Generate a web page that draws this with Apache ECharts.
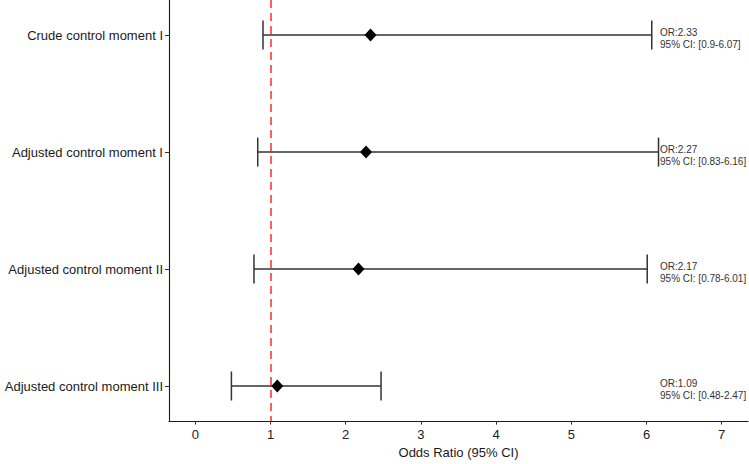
<!DOCTYPE html>
<html><head><meta charset="utf-8">
<script src="https://cdn.jsdelivr.net/npm/echarts@6/dist/echarts.min.js"></script>
<style>html,body{margin:0;padding:0;background:#fff}#c{width:749px;height:464px}</style>
</head><body><div id="c"></div>
<script>
// ---- data ----
const categories = ["Crude control moment I", "Adjusted control moment I", "Adjusted control moment II", "Adjusted control moment III"];
const oddsRatios = [2.33, 2.27, 2.17, 1.09];
const ciLower = [0.9, 0.83, 0.78, 0.48];
const ciUpper = [6.07, 6.16, 6.01, 2.47];
const xTickValues = [0, 1, 2, 3, 4, 5, 6, 7];
const referenceValue = 1;
const xAxisTitle = "Odds Ratio (95% CI)";

// ---- layout constants ----
const annotX = 6.18;      // x position (data units) where the OR / CI text starts
const capHalfPx = 14.5;   // half height of the error-bar caps
const rowPos = categories.map((c, i) => i + 1);

const chart = echarts.init(document.getElementById('c'), null, {renderer: 'svg'});
const FONT = '"Liberation Sans", Arial, sans-serif';

const errData = categories.map((c, i) => [ciLower[i], ciUpper[i], rowPos[i]]);
const pointData = categories.map((c, i) => [oddsRatios[i], rowPos[i]]);
const textData = categories.map((c, i) => [annotX, rowPos[i], i]);

chart.setOption({
  animation: false,
  backgroundColor: '#fff',
  grid: {left: 169, right: 1, top: 0, bottom: 39, containLabel: false},
  xAxis: {
    type: 'value', min: -0.35, max: 7.35,
    name: xAxisTitle, nameLocation: 'middle', nameGap: 20,
    nameTextStyle: {fontFamily: FONT, fontSize: 13, color: '#1a1a1a'},
    axisLine: {show: true, onZero: false, lineStyle: {color: '#1a1a1a', width: 1.1}},
    axisTick: {show: true, length: 3.5, customValues: xTickValues, lineStyle: {color: '#333'}},
    axisLabel: {customValues: xTickValues, margin: 7, fontFamily: FONT, fontSize: 13, color: '#222'},
    splitLine: {show: false}
  },
  yAxis: {
    type: 'value', inverse: true, min: 0.7, max: 4.3,
    axisLine: {show: true, onZero: false, lineStyle: {color: '#1a1a1a', width: 1.1}},
    axisTick: {show: true, length: 4, customValues: rowPos, lineStyle: {color: '#333'}},
    axisLabel: {customValues: rowPos, margin: 6, fontFamily: FONT, fontSize: 13, color: '#1a1a1a',
      formatter: v => categories[Math.round(v) - 1] || ''},
    splitLine: {show: false}
  },
  series: [
    {
      type: 'custom', z: 2,
      data: errData,
      encode: {x: [0, 1], y: 2},
      renderItem: function (params, api) {
        const a = api.coord([api.value(0), api.value(2)]);
        const b = api.coord([api.value(1), api.value(2)]);
        const st = {stroke: '#333', lineWidth: 1.5};
        return {type: 'group', children: [
          {type: 'line', shape: {x1: a[0], y1: a[1], x2: b[0], y2: b[1]}, style: st},
          {type: 'line', shape: {x1: a[0], y1: a[1] - capHalfPx, x2: a[0], y2: a[1] + capHalfPx}, style: st},
          {type: 'line', shape: {x1: b[0], y1: b[1] - capHalfPx, x2: b[0], y2: b[1] + capHalfPx}, style: st}
        ]};
      }
    },
    {
      type: 'scatter', z: 4,
      data: pointData,
      symbol: 'diamond', symbolSize: [12, 13],
      itemStyle: {color: '#000', opacity: 1},
      markLine: {
        silent: true, symbol: 'none', label: {show: false}, z: 3,
        lineStyle: {color: '#ff5f5f', width: 2, type: [8, 5], opacity: 1},
        data: [{xAxis: referenceValue}]
      }
    },
    {
      type: 'custom', z: 5, clip: false,
      data: textData,
      renderItem: function (params, api) {
        const i = api.value(2);
        const p = api.coord([api.value(0), api.value(1)]);
        return {
          type: 'text', x: p[0], y: p[1] + 3,
          style: {
            text: 'OR:' + oddsRatios[i] + '\n95% CI: [' + ciLower[i] + '-' + ciUpper[i] + ']',
            fill: '#333', fontFamily: FONT, fontSize: 10, lineHeight: 12,
            align: 'left', verticalAlign: 'middle'
          }
        };
      }
    }
  ]
});
</script>
</body></html>
